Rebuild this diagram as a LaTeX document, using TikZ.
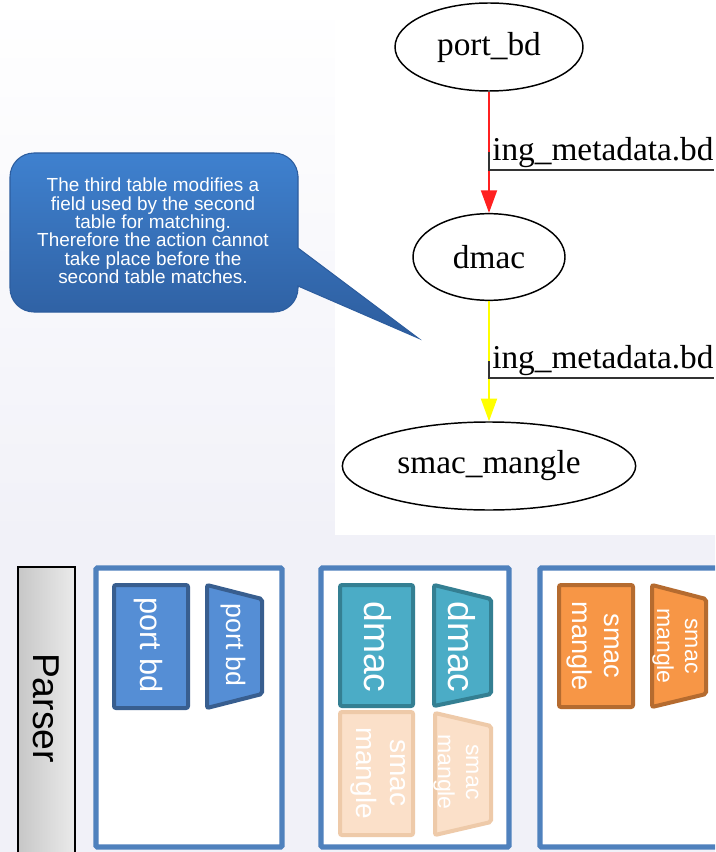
\documentclass[tikz,border=0pt]{standalone}
\usepackage{fontspec}
\setmainfont{Liberation Serif}
\setsansfont{Liberation Sans}
\usetikzlibrary{arrows.meta,positioning,shapes.geometric,calc}
\definecolor{Canvas}{HTML}{F1F1F8}
\definecolor{CallTop}{HTML}{3F81CF}
\definecolor{CallBot}{HTML}{2D5D9E}
\definecolor{StageBlue}{HTML}{4F81BD}
\definecolor{PortFill}{HTML}{558ED5}
\definecolor{PortLine}{HTML}{385E8F}
\definecolor{DmacFill}{HTML}{4BACC6}
\definecolor{DmacLine}{HTML}{347F92}
\definecolor{SmacFill}{HTML}{F79646}
\definecolor{SmacLine}{HTML}{B56B2F}
\definecolor{GhostFill}{HTML}{FBE0C9}
\definecolor{GhostLine}{HTML}{EECAA9}
\definecolor{EdgeRed}{HTML}{FF2020}
\definecolor{EdgeYellow}{HTML}{FFFF00}
\tikzset{
  tblnode/.style={ellipse, draw=black, line width=1.1pt, fill=white, inner sep=0pt,
    font=\fontsize{25}{30}\selectfont},
  depedge/.style={line width=1.5pt, -{Triangle[length=17pt,width=12pt]}},
  edgelabel/.style={inner sep=0pt, font=\fontsize{25}{30}\selectfont},
  underlink/.style={draw=black!80, line width=1.1pt},
  stagebox/.style={draw=StageBlue, line width=4pt, fill=white, rounded corners=1pt},
  parserbox/.style={draw=black, line width=1.1pt, left color=black!22, right color=black!8},
  portshape/.style={draw=PortLine, fill=PortFill, line width=3pt, rounded corners=1.5pt},
  dmacshape/.style={draw=DmacLine, fill=DmacFill, line width=3pt, rounded corners=1.5pt},
  smacshape/.style={draw=SmacLine, fill=SmacFill, line width=3pt, rounded corners=1.5pt},
  ghostshape/.style={draw=GhostLine, fill=GhostFill, line width=3pt, rounded corners=1.5pt},
  tbltext/.style={rotate=-90, text=white, align=center, inner sep=0pt},
  calltext/.style={text=white, align=center, inner sep=0pt,
    font=\sffamily\fontsize{14.2}{13.8}\selectfont},
}

\begin{document}
\begin{tikzpicture}[x=0.75pt, y=-0.75pt]
  \useasboundingbox (0,0) rectangle (715,852);
  \clip (0,0) rectangle (715,852);
  \fill[Canvas] (0,0) rectangle (715,852);
  \shade[top color=white, bottom color=Canvas] (0,0) rectangle (335,540);
  \fill[white] (335,0) rectangle (715,535);

  \node[tblnode, minimum width=141pt, minimum height=66pt] (portbd) at (489,47) {port\_bd};
  \node[tblnode, minimum width=114pt, minimum height=65pt] (dmac) at (489,257) {dmac};
  \node[tblnode, minimum width=220pt, minimum height=66pt] (smac) at (489,466) {smac\_mangle};

  \draw[depedge, EdgeRed] (portbd) -- (dmac);
  \draw[depedge, EdgeYellow] (dmac) -- (smac);

  \node[edgelabel, anchor=base west] (lblone) at (492,161) {ing\_metadata.bd};
  \coordinate (ulone) at (489,170);
  \draw[underlink] ($(portbd.south)!0.5!(dmac.north)$) -- (ulone) -- (ulone -| lblone.east);
  \node[edgelabel, anchor=base west] (lbltwo) at (492,368) {ing\_metadata.bd};
  \coordinate (ultwo) at (489,378);
  \draw[underlink] ($(dmac.south)!0.5!(smac.north)$) -- (ultwo) -- (ultwo -| lbltwo.east);

  \path[top color=CallTop, bottom color=CallBot, draw=CallBot, line width=0.8pt]
    (298,200) -- (298,248) -- (418,338) -- (298,286) [rounded corners=18pt] -- (298,312)
    -- (10,312) -- (10,153) -- (298,153) -- cycle;
  \node[calltext] (note) at (153,231) {The third table modifies a\\field used by the second\\table for matching.\\Therefore the action cannot\\take place before the\\second table matches.};

  \draw[parserbox] (18,567) rectangle (75,880);
  \node[rotate=-90, inner sep=0pt, font=\sffamily\fontsize{28}{32}\selectfont] (parser) at (46,708) {Parser};

  \draw[stagebox] (96,568) rectangle (282,847);
  \draw[stagebox] (321,568) rectangle (509,847);
  \draw[stagebox] (540,568) rectangle (740,847);

  \draw[portshape] (114,585) rectangle (188,708);
  \node[tbltext, font=\sffamily\fontsize{23}{27}\selectfont] (portmatch) at (148,645) {port bd};
  \draw[portshape] (207,585) -- (262,599) -- (262,694) -- (207,708) -- cycle;
  \node[tbltext, font=\sffamily\fontsize{20}{24}\selectfont] (portact) at (233,645) {port bd};

  \draw[dmacshape] (340,585) rectangle (413,706);
  \node[tbltext, font=\sffamily\fontsize{28}{32}\selectfont] (dmacmatch) at (378,647) {dmac};
  \draw[dmacshape] (434,585) -- (491,599) -- (491,694) -- (434,706) -- cycle;
  \node[tbltext, font=\sffamily\fontsize{28}{32}\selectfont] (dmacact) at (462,647) {dmac};

  \draw[ghostshape] (340,712) rectangle (413,835);
  \node[tbltext, font=\sffamily\fontsize{21}{25}\selectfont] (ghostmatch) at (378,773) {smac\\mangle};
  \draw[ghostshape] (435,713) -- (491,726) -- (491,822) -- (435,835) -- cycle;
  \node[tbltext, font=\sffamily\fontsize{17.3}{21}\selectfont] (ghostact) at (456,772) {smac\\mangle};

  \draw[smacshape] (559,585) rectangle (633,707);
  \node[tbltext, font=\sffamily\fontsize{20.4}{24.5}\selectfont] (smacmatch) at (593,646) {smac\\mangle};
  \draw[smacshape] (652,585) -- (706,599) -- (706,694) -- (652,707) -- cycle;
  \node[tbltext, font=\sffamily\fontsize{17.3}{21}\selectfont] (smacact) at (675,646) {smac\\mangle};
\end{tikzpicture}
\end{document}
